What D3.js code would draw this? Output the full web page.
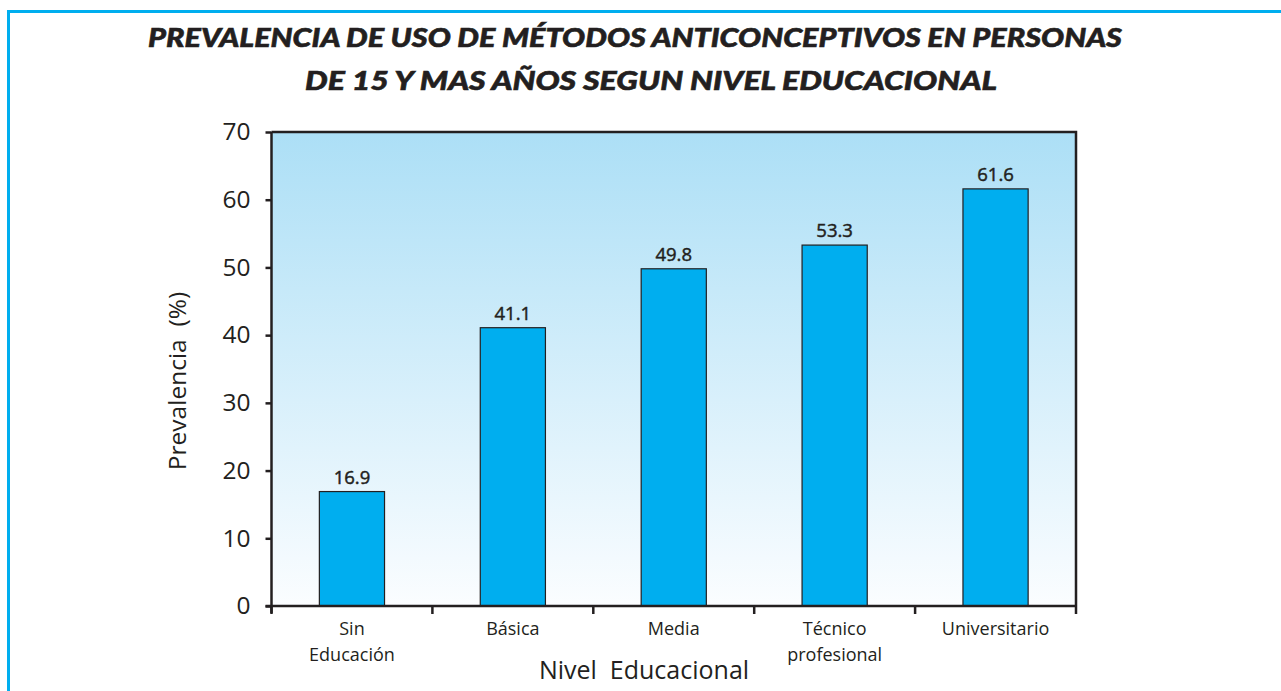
<!DOCTYPE html>
<html>
<head>
<meta charset="utf-8">
<script src="https://cdn.jsdelivr.net/npm/d3@7"></script>
<style>
  html, body { margin: 0; padding: 0; background: #fff; }
  svg { display: block; }
</style>
</head>
<body>
<svg id="chart" width="1281" height="691"></svg>
<script>
// ---- data ----
const categories = ["Sin Educación", "Básica", "Media", "Técnico profesional", "Universitario"];
const categoryLines = [["Sin", "Educación"], ["Básica"], ["Media"], ["Técnico", "profesional"], ["Universitario"]];
const values = [16.9, 41.1, 49.8, 53.3, 61.6];
const yTicks = [0, 10, 20, 30, 40, 50, 60, 70];
const titleLines = [
  "PREVALENCIA DE USO DE MÉTODOS ANTICONCEPTIVOS EN PERSONAS",
  "DE 15 Y MAS AÑOS SEGUN NIVEL EDUCACIONAL"
];
const yTitle = "Prevalencia  (%)";
const xTitle = "Nivel  Educacional";

// ---- layout ----
const W = 1281, H = 691;
const plot = { left: 271.5, right: 1076, top: 132, bottom: 606 };
const ink = "#231f20";
const font = "'Open Sans', 'Noto Sans', sans-serif";

const svg = d3.select("#chart");

// frame
svg.append("path")
  .attr("d", `M8.5,${H} V11.5 H${W}`)
  .attr("fill", "none")
  .attr("stroke", "#00aeef")
  .attr("stroke-width", 3);

// gradient background
const defs = svg.append("defs");
const grad = defs.append("linearGradient").attr("id", "bg")
  .attr("x1", 0).attr("y1", 0).attr("x2", 0).attr("y2", 1);
grad.append("stop").attr("offset", "0%").attr("stop-color", "#acdff6");
grad.append("stop").attr("offset", "100%").attr("stop-color", "#fbfdff");

const x = d3.scaleBand().domain(categories).range([plot.left, plot.right]).padding(0);
const y = d3.scaleLinear().domain([0, 70]).range([plot.bottom, plot.top]);
const barW = x.bandwidth() * 0.405;

svg.append("rect")
  .attr("x", plot.left).attr("y", plot.top)
  .attr("width", plot.right - plot.left).attr("height", plot.bottom - plot.top)
  .attr("fill", "url(#bg)");

// top and right border
svg.append("path")
  .attr("d", `M${plot.left},${plot.top} H${plot.right} V${plot.bottom}`)
  .attr("fill", "none").attr("stroke", ink).attr("stroke-width", 2.5);

// bars
svg.append("g").selectAll("rect").data(values).join("rect")
  .attr("x", (d, i) => x(categories[i]) + x.bandwidth() / 2 - barW / 2)
  .attr("y", d => y(d))
  .attr("width", barW)
  .attr("height", d => y(0) - y(d))
  .attr("fill", "#00aeef")
  .attr("stroke", ink)
  .attr("stroke-width", 1.2);

// value labels
svg.append("g").selectAll("text").data(values).join("text")
  .attr("x", (d, i) => x(categories[i]) + x.bandwidth() / 2)
  .attr("y", d => y(d) - 8)
  .attr("text-anchor", "middle")
  .attr("font-family", font)
  .attr("font-weight", 400)
  .attr("font-size", 18.5)
  .attr("fill", ink)
  .attr("stroke", ink)
  .attr("stroke-width", 0.45)
  .text(d => d.toFixed(1));

// y axis
const yAxis = svg.append("g")
  .attr("transform", `translate(${plot.left},0)`)
  .call(d3.axisLeft(y).tickValues(yTicks).tickSize(6).tickPadding(15).tickFormat(d3.format("d")));
yAxis.select(".domain").attr("stroke", ink).attr("stroke-width", 2.5).attr("d", `M0,${plot.bottom + 7}V${plot.top}`);
yAxis.selectAll(".tick line").attr("stroke", ink).attr("stroke-width", 2.5);
yAxis.selectAll(".tick text")
  .attr("font-family", font).attr("font-size", 24.5).attr("fill", ink);

// x axis (baseline + ticks at band boundaries)
const xAxis = svg.append("g").attr("transform", `translate(0,${plot.bottom})`);
xAxis.append("line")
  .attr("x1", plot.left - 6).attr("x2", plot.right)
  .attr("stroke", ink).attr("stroke-width", 2.5);
const boundaries = categories.map(c => x(c)).concat([x.range()[1]]);
xAxis.selectAll("line.tk").data(boundaries).join("line")
  .attr("class", "tk")
  .attr("x1", d => d).attr("x2", d => d)
  .attr("y1", 0).attr("y2", 8)
  .attr("stroke", ink).attr("stroke-width", 2.5);

// category labels
const catG = svg.append("g");
categoryLines.forEach((lines, i) => {
  const t = catG.append("text")
    .attr("x", x(categories[i]) + x.bandwidth() / 2)
    .attr("y", 635)
    .attr("text-anchor", "middle")
    .attr("font-family", font)
    .attr("font-size", 18)
    .attr("fill", ink);
  lines.forEach((l, j) => {
    t.append("tspan")
      .attr("x", x(categories[i]) + x.bandwidth() / 2)
      .attr("dy", j === 0 ? 0 : 26)
      .text(l);
  });
});

// axis titles
svg.append("text")
  .attr("transform", `translate(186,${(plot.top + plot.bottom) / 2 + 12}) rotate(-90)`)
  .attr("text-anchor", "middle")
  .attr("font-family", font)
  .attr("font-size", 24.5)
  .attr("fill", ink)
  .style("white-space", "pre")
  .text(yTitle);

svg.append("text")
  .attr("x", 644).attr("y", 679)
  .attr("text-anchor", "middle")
  .attr("font-family", font)
  .attr("font-size", 25)
  .attr("fill", ink)
  .style("white-space", "pre")
  .text(xTitle);

// title
const titleSpec = [{ x0: 148, w: 974, y: 47 }, { x0: 305, w: 692, y: 90 }];
titleLines.forEach((line, i) => {
  svg.append("text")
    .attr("x", titleSpec[i].x0)
    .attr("y", titleSpec[i].y)
    .attr("font-family", "Lato, 'Liberation Sans', Arial, sans-serif")
    .attr("font-weight", 900)
    .attr("font-style", "italic")
    .attr("font-size", 27)
    .attr("fill", ink)
    .attr("stroke", ink)
    .attr("stroke-width", 0.6)
    .attr("textLength", titleSpec[i].w)
    .attr("lengthAdjust", "spacingAndGlyphs")
    .text(line);
});
</script>
</body>
</html>
